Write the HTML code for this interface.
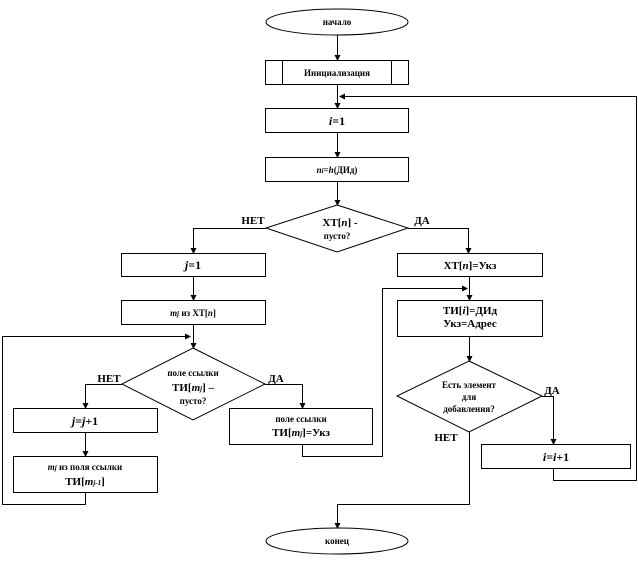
<!DOCTYPE html>
<html><head><meta charset="utf-8"><style>
body{margin:0;background:#fff}
svg{display:block}
text{font-family:"Liberation Serif",serif;font-weight:bold;fill:#000;text-anchor:middle}
.s{font-size:9px}.m{font-size:11px}.l{font-size:12px}
</style></head><body>
<svg width="638" height="576" viewBox="0 0 638 576" xmlns="http://www.w3.org/2000/svg">
<defs><marker id="a" markerWidth="6" markerHeight="6" refX="5" refY="3" orient="auto" markerUnits="userSpaceOnUse"><path d="M0,0L6,3L0,6z" fill="#000"/></marker></defs>
<g fill="none" stroke="#000" stroke-width="1">
<ellipse cx="337" cy="22" rx="71" ry="13"/>
<rect x="265.5" y="60.5" width="143" height="24"/>
<line x1="282.5" y1="60" x2="282.5" y2="85"/><line x1="391.5" y1="60" x2="391.5" y2="85"/>
<rect x="265.5" y="108.5" width="143" height="24"/>
<rect x="265.5" y="157.5" width="143" height="24"/>
<polygon points="337,205 408,228 337,252 266,228"/>
<rect x="121.5" y="253.5" width="144" height="23"/>
<rect x="397.5" y="253.5" width="145" height="23"/>
<rect x="121.5" y="300.5" width="144" height="24"/>
<rect x="397.5" y="300.5" width="145" height="36"/>
<polygon points="193,348 265,384 193,420 122,384"/>
<rect x="13.5" y="408.5" width="144" height="24"/>
<rect x="13.5" y="456.5" width="144" height="36"/>
<rect x="229.5" y="408.5" width="143" height="36"/>
<polygon points="469,361 542,396 469,432 397,396"/>
<rect x="481.5" y="444.5" width="149" height="24"/>
<ellipse cx="337" cy="541" rx="71" ry="13"/>
</g>
<g fill="none" stroke="#000" stroke-width="1" marker-end="url(#a)">
<path d="M337.5,35V60"/>
<path d="M337.5,85V108"/>
<path d="M337.5,133V157"/>
<path d="M337.5,182V205"/>
<path d="M266,228.5H193.5V253"/>
<path d="M408,228.5H468.5V253"/>
<path d="M193.5,277V300"/>
<path d="M469.5,277V300"/>
<path d="M193.5,325V348"/>
<path d="M469.5,337V361"/>
<path d="M122,384.5H85.5V408"/>
<path d="M85.5,433V456"/>
<path d="M85.5,493V504.5H2.5V336.5H190"/>
<path d="M265,384.5H302.5V408"/>
<path d="M302.5,445V456.5H382.5V288.5H467"/>
<path d="M542,396.5H553.5V444"/>
<path d="M553.5,469V480.5H636.5V96.5H340"/>
<path d="M469.5,432V504.5H337.5V528"/>
</g>
<text class="s" x="337" y="25">начало</text>
<text class="s" x="337" y="76">Инициализация</text>
<text class="l" x="337" y="125"><tspan font-style="italic">i</tspan>=1</text>
<text class="s" x="337" y="173"><tspan font-style="italic">n</tspan><tspan font-style="italic" font-size="7">i</tspan>=<tspan font-style="italic">h</tspan>(ДИд)</text>
<text class="m" x="340" y="226">ХТ[<tspan font-style="italic">n</tspan>] -</text>
<text class="s" x="337" y="239">пусто?</text>
<text class="m" x="253" y="224">НЕТ</text>
<text class="m" x="422" y="224">ДА</text>
<text class="l" x="193" y="269"><tspan font-style="italic">j</tspan>=1</text>
<text class="m" x="470" y="269">ХТ[<tspan font-style="italic">n</tspan>]=Укз</text>
<text class="s" x="193" y="316"><tspan font-style="italic">m</tspan><tspan font-style="italic" font-size="7">j</tspan> из ХТ[<tspan font-style="italic">n</tspan>]</text>
<text class="m" x="470" y="314">ТИ[<tspan font-style="italic">i</tspan>]=ДИд</text>
<text class="m" x="470" y="327">Укз=Адрес</text>
<text class="s" x="193" y="376">поле ссылки</text>
<text class="m" x="193" y="391">ТИ[<tspan font-style="italic">m</tspan><tspan font-style="italic" font-size="7">j</tspan>] –</text>
<text class="s" x="193" y="404">пусто?</text>
<text class="m" x="109" y="382">НЕТ</text>
<text class="m" x="276" y="382">ДА</text>
<text class="l" x="85" y="425"><tspan font-style="italic">j=j</tspan>+1</text>
<text class="s" x="85" y="470"><tspan font-style="italic">m</tspan><tspan font-style="italic" font-size="7">j</tspan> из поля ссылки</text>
<text class="m" x="85" y="485">ТИ[<tspan font-style="italic">m</tspan><tspan font-style="italic" font-size="7">j-1</tspan>]</text>
<text class="s" x="301" y="422">поле ссылки</text>
<text class="m" x="301" y="436">ТИ[<tspan font-style="italic">m</tspan><tspan font-style="italic" font-size="7">j</tspan>]=Укз</text>
<text class="s" x="469" y="388">Есть элемент</text>
<text class="s" x="469" y="400">для</text>
<text class="s" x="469" y="412">добавления?</text>
<text class="m" x="552" y="394">ДА</text>
<text class="m" x="446" y="441">НЕТ</text>
<text class="l" x="556" y="461"><tspan font-style="italic">i=i</tspan>+1</text>
<text class="s" x="337" y="544">конец</text>
</svg>
</body></html>
